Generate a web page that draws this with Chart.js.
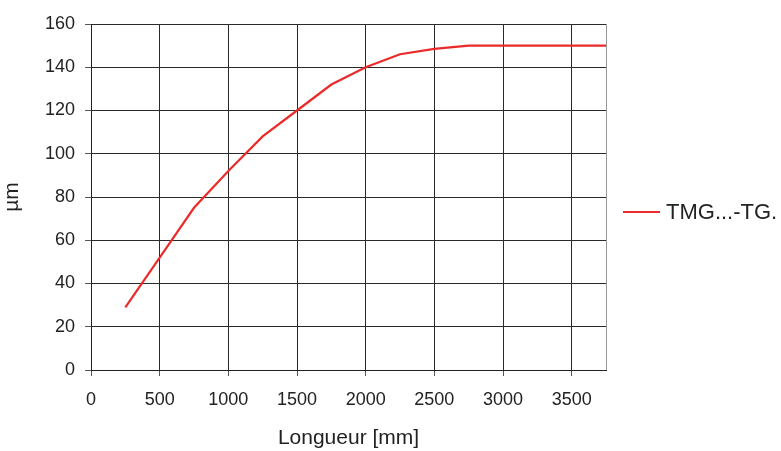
<!DOCTYPE html>
<html>
<head>
<meta charset="utf-8">
<script src="https://cdn.jsdelivr.net/npm/chart.js@4.4.1/dist/chart.umd.min.js"></script>
<style>
  html, body { margin: 0; padding: 0; background: #fff; }
  #wrap { width: 781px; height: 451px; }
</style>
</head>
<body>
<div id="wrap"><canvas id="chart" width="781" height="451"></canvas></div>
<script>
'use strict';

// length in mm and deflection in µm
var lengths = [250, 500, 750, 1000, 1250, 1500, 1750, 2000, 2250, 2500, 2750, 3000, 3250, 3500, 3750];
var deflection = [29, 52, 75, 92, 108, 120, 132, 140, 146, 148.5, 150, 150, 150, 150, 150];
var xTicks = [0, 500, 1000, 1500, 2000, 2500, 3000, 3500];
var yTicks = [0, 20, 40, 60, 80, 100, 120, 140, 160];
var seriesName = 'TMG...-TG.';
var xTitle = 'Longueur [mm]';
var yTitle = 'µm';

var font = "'Liberation Sans', Arial, Helvetica, sans-serif";
var ink = '#222';
var red = '#ec2a2a';

var points = lengths.map(function (l, i) {
  return { x: l, y: deflection[i] };
});

// plain numbers, no thousands separator
function plain(v) { return String(v); }

// right edge of the plot box plus the legend on the right
var frame = {
  id: 'frame',
  afterDraw: function (chart) {
    var c = chart.ctx;
    var a = chart.chartArea;
    c.save();
    c.strokeStyle = '#999';
    c.lineWidth = 1;
    c.beginPath();
    c.moveTo(Math.round(a.right) + 0.5, a.top);
    c.lineTo(Math.round(a.right) + 0.5, a.bottom);
    c.stroke();

    var ly = 212;
    c.strokeStyle = red;
    c.lineWidth = 2;
    c.beginPath();
    c.moveTo(623, ly);
    c.lineTo(660, ly);
    c.stroke();
    c.fillStyle = ink;
    c.font = '22px ' + font;
    c.textBaseline = 'middle';
    c.textAlign = 'left';
    c.fillText(seriesName, 666, ly + 1);
    c.restore();
  }
};

var ctx = document.getElementById('chart').getContext('2d');
var chart = new Chart(ctx, {
  type: 'line',
  data: {
    datasets: [{
      label: seriesName,
      data: points,
      borderColor: red,
      borderWidth: 2.2,
      pointRadius: 0,
      tension: 0,
      fill: false
    }]
  },
  options: {
    responsive: false,
    animation: false,
    layout: { padding: { left: 0, top: 24, right: 175, bottom: 0 } },
    plugins: {
      legend: { display: false },
      tooltip: { enabled: false }
    },
    scales: {
      x: {
        type: 'linear',
        min: 0,
        max: 3750,
        afterBuildTicks: function (scale) {
          scale.ticks = xTicks.map(function (v) { return { value: v }; });
        },
        afterFit: function (scale) { scale.height = 81; },
        ticks: {
          color: ink,
          padding: 13,
          maxRotation: 0,
          autoSkip: false,
          callback: plain,
          font: { family: font, size: 18 }
        },
        grid: { color: '#2a2a2a', lineWidth: 1, tickLength: 6, tickColor: '#555' },
        border: { color: '#222', width: 1 },
        title: {
          display: true,
          text: xTitle,
          color: ink,
          padding: { top: 0, bottom: 0 },
          font: { family: font, size: 21 }
        }
      },
      y: {
        min: 0,
        max: 160,
        afterBuildTicks: function (scale) {
          scale.ticks = yTicks.map(function (v) { return { value: v }; });
        },
        afterFit: function (scale) { scale.width = 91; },
        ticks: {
          color: ink,
          padding: 10,
          autoSkip: false,
          callback: plain,
          font: { family: font, size: 18 }
        },
        grid: { color: '#2a2a2a', lineWidth: 1, tickLength: 6, tickColor: '#555' },
        border: { color: '#222', width: 1 },
        title: {
          display: true,
          text: yTitle,
          color: ink,
          padding: { top: 0, bottom: 0 },
          font: { family: font, size: 21 }
        }
      }
    }
  },
  plugins: [frame]
});
</script>
</body>
</html>
